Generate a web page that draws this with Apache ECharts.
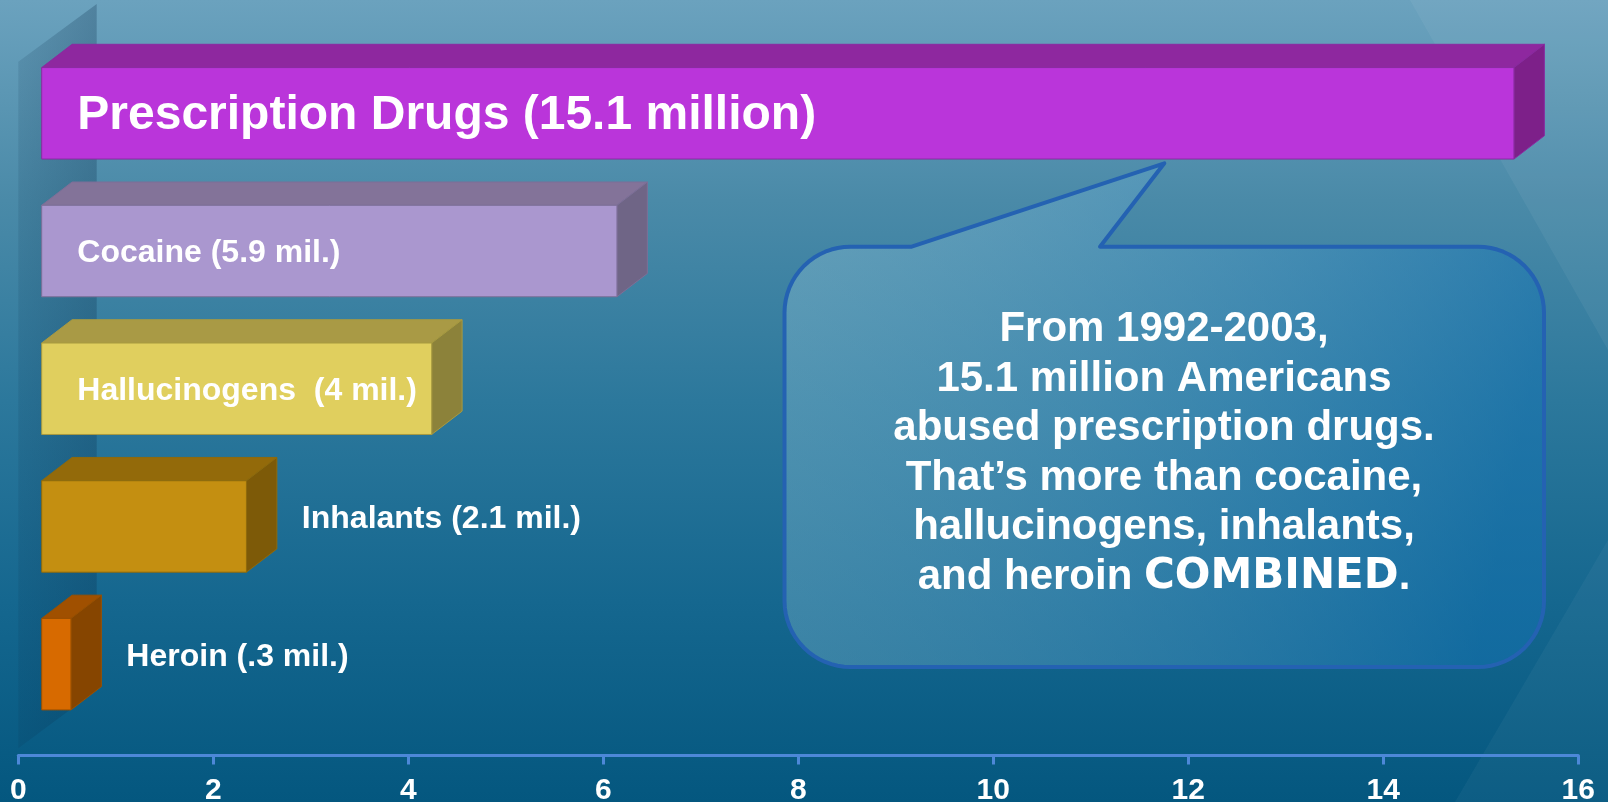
<!DOCTYPE html>
<html>
<head>
<meta charset="utf-8">
<script src="https://cdn.jsdelivr.net/npm/echarts@6/dist/echarts.min.js"></script>
<style>
html,body{margin:0;padding:0;background:#2C789C;}
#chart{width:1608px;height:802px;}
</style>
</head>
<body>
<div id="chart"></div>
<script>
// ---- data ----
const categories = ['Prescription Drugs', 'Cocaine', 'Hallucinogens', 'Inhalants', 'Heroin'];
const values = [15.1, 5.9, 4, 2.1, 0.3];
const barLabels = ['Prescription Drugs (15.1 million)', 'Cocaine (5.9 mil.)', 'Hallucinogens  (4 mil.)', 'Inhalants (2.1 mil.)', 'Heroin (.3 mil.)'];
const xMin = 0, xMax = 16, xStep = 2;
const calloutLines = ['From 1992-2003,', '15.1 million Americans', 'abused prescription drugs.', 'That\u2019s more than cocaine,', 'hallucinogens, inhalants,'];
const calloutLast = ['and heroin ', 'COMBINED', '.'];

// ---- styles ----
const FONT = "'Liberation Sans', Arial, Helvetica, sans-serif";
const faceColors = [
  {front:'#BA35DA', top:'#8E289F', side:'#7D2089', edge:'#8a2aa0'},
  {front:'#AA97CF', top:'#837399', side:'#6F6586', edge:'#7d6f98'},
  {front:'#E0CF5E', top:'#A99A45', side:'#8C823A', edge:'#a89a40'},
  {front:'#C48F11', top:'#936A0A', side:'#7D5A08', edge:'#8e6a0c'},
  {front:'#D76A00', top:'#A05000', side:'#864500', edge:'#9a5000'}
];
const labelFont = [48, 32, 32, 32, 32];
const FRONT_OFF = 23.4;   // front face offset from axis zero (3D projection)
const DX = 30.4, DY = -23.3; // depth vector
const BAR_RATIO = 0.664;
const INSIDE_MIN = 3;     // bars wide enough to hold their label

const chart = echarts.init(document.getElementById('chart'), null, {renderer:'canvas'});

function renderItem(params, api) {
  const v = api.value(0), ci = api.value(1);
  const p0 = api.coord([0, ci]);
  const p1 = api.coord([v, ci]);
  const band = api.size([0, 1])[1];
  const h = band * BAR_RATIO;
  const fx = p0[0] + FRONT_OFF;
  const fw = p1[0] - p0[0];
  const top = p0[1] - h / 2;
  const c = faceColors[ci];
  const children = [
    {type:'polygon', shape:{points:[[fx,top],[fx+DX,top+DY],[fx+fw+DX,top+DY],[fx+fw,top]]},
      style:{fill:c.top, stroke:c.edge, lineWidth:1}},
    {type:'polygon', shape:{points:[[fx+fw,top],[fx+fw+DX,top+DY],[fx+fw+DX,top+DY+h],[fx+fw,top+h]]},
      style:{fill:c.side, stroke:c.edge, lineWidth:1}},
    {type:'rect', shape:{x:fx, y:top, width:fw, height:h},
      style:{fill:c.front, stroke:c.edge, lineWidth:1}}
  ];
  const inside = v >= INSIDE_MIN;
  children.push({
    type:'text',
    x: inside ? fx + 35.6 : fx + fw + DX + 25,
    y: inside ? p0[1] + 2 : p0[1] - 7,
    style:{
      text: barLabels[ci], fill:'#ffffff',
      fontSize: labelFont[ci], fontWeight:'bold', fontFamily:FONT,
      align:'left', verticalAlign:'middle'
    }
  });
  return {type:'group', children};
}

// callout outline (rounded rectangle with a tail), sampled as a polygon
const L = 784.5, R = 1544, T = 246.7, B = 667, r = 66;
function arcPts(cx, cy, a0, a1) {
  const pts = [];
  const n = 16;
  for (let k = 0; k <= n; k++) {
    const a = a0 + (a1 - a0) * k / n;
    pts.push([cx + r * Math.cos(a), cy + r * Math.sin(a)]);
  }
  return pts;
}
const PI = Math.PI;
const calloutPts = [].concat(
  [[911.7, T], [1164.3, 163.3], [1100, T]],
  arcPts(R - r, T + r, -PI / 2, 0),
  arcPts(R - r, B - r, 0, PI / 2),
  arcPts(L + r, B - r, PI / 2, PI),
  arcPts(L + r, T + r, PI, 1.5 * PI)
);

const calloutText = calloutLines.join('\n') + '\n' + calloutLast[0] + '{c|' + calloutLast[1] + '}' + calloutLast[2];

const option = {
  animation:false,
  backgroundColor:{type:'linear', x:0, y:0, x2:0, y2:1, colorStops:[
    {offset:0, color:'#6BA2BE'},
    {offset:0.25, color:'#4A8AA8'},
    {offset:0.5, color:'#2C789C'},
    {offset:0.75, color:'#15678F'},
    {offset:1, color:'#04577F'}
  ]},
  graphic:[
    {type:'polygon', z:0, shape:{points:[[1410,0],[1608,0],[1608,350]]},
      style:{fill:'rgba(255,255,255,0.05)'}, silent:true},
    {type:'polygon', z:0, shape:{points:[[1455,802],[1608,540],[1608,802]]},
      style:{fill:'rgba(255,255,255,0.04)'}, silent:true},
    {type:'polygon', z:0, shape:{points:[[18.3,61.7],[96.7,4],[96.7,690],[18.3,748.3]]},
      style:{fill:{type:'linear', x:0, y:0, x2:1, y2:0, colorStops:[
        {offset:0, color:'rgba(10,45,75,0.12)'},
        {offset:1, color:'rgba(10,45,75,0.27)'}]}}, silent:true},
    {type:'polygon', z:0, shape:{points:calloutPts},
      style:{fill:{type:'linear', x:0, y:0, x2:1, y2:0.3, colorStops:[
        {offset:0, color:'rgba(165,210,225,0.30)'},
        {offset:1, color:'rgba(20,115,180,0.50)'}]},
        stroke:'#2462B2', lineWidth:4, lineJoin:'round'}, silent:true},
    {type:'text', z:1, x:1164, y:453.5,
      style:{text:calloutText, fill:'#ffffff', fontSize:42, fontWeight:'bold',
        fontFamily:FONT, lineHeight:49.6,
        align:'center', verticalAlign:'middle',
        rich:{c:{fontSize:42, fontWeight:'bold', fontFamily:"'DejaVu Sans'", fill:'#ffffff', lineHeight:49.6}}}, silent:true}
  ],
  grid:{left:18.3, right:29.7, top:44.45, bottom:68.95, containLabel:false, outerBoundsMode:'none'},
  xAxis:{
    type:'value', min:xMin, max:xMax, interval:xStep, offset:22.5,
    axisLine:{show:true, lineStyle:{color:'#4D88D8', width:3}},
    axisTick:{show:true, length:9, inside:false, lineStyle:{color:'#4D88D8', width:3}},
    splitLine:{show:false},
    axisLabel:{color:'#ffffff', fontSize:30, fontWeight:'bold', fontFamily:FONT, margin:20}
  },
  yAxis:{
    type:'category', data:categories, inverse:true,
    axisLine:{show:false}, axisTick:{show:false}, axisLabel:{show:false}, splitLine:{show:false}
  },
  series:[{
    type:'custom', renderItem:renderItem, z:5,
    encode:{x:0, y:1},
    data: values.map((v, i) => [v, i])
  }]
};
chart.setOption(option);
</script>
</body>
</html>
